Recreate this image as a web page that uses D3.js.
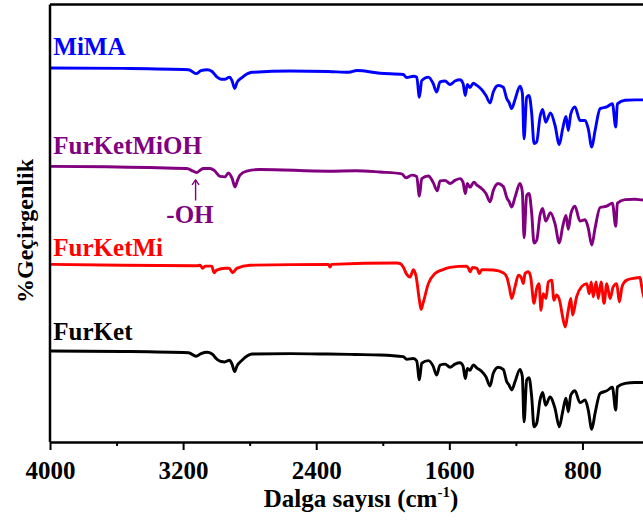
<!DOCTYPE html>
<html>
<head>
<meta charset="utf-8">
<script src="https://cdn.jsdelivr.net/npm/d3@7"></script>
<style>
  html, body { margin: 0; padding: 0; background: #fff; }
  svg { display: block; }
  text { font-family: "Liberation Serif", "Times New Roman", serif; font-weight: bold; }
</style>
</head>
<body>
<svg id="chart" width="643" height="522"></svg>
<script>
// FTIR spectra, stacked: [wavenumber (cm-1), %T (offset for stacking)]
const mima = [
  [4000,85.5],[3561,85.4],[3167,85.1],[3122,84.2],[3092,84.9],[3056,85.1],[3026,84.7],[2996,83.4],
  [2972,82.9],[2950,82.9],[2921,83.4],[2906,82.6],[2890,80.8],[2876,82.2],[2846,83.3],[2786,84.5],
  [2558,84.8],[2329,84.7],[2205,84.5],[2156,84.9],[2017,84.3],[1877,84.0],[1856,83.3],[1816,83.6],
  [1796,83.4],[1780,78.8],[1766,82.6],[1726,83.4],[1698,82.0],[1676,80.0],[1656,82.3],[1626,82.5],
  [1596,81.7],[1566,82.5],[1536,82.8],[1518,82.0],[1504,79.2],[1492,81.7],[1476,81.0],[1456,82.0],
  [1434,81.5],[1405,80.5],[1380,79.2],[1355,77.5],[1336,80.0],[1306,81.5],[1276,81.1],[1255,78.5],
  [1241,77.6],[1225,76.2],[1205,78.3],[1175,81.3],[1161,79.7],[1151,69.3],[1135,78.8],[1121,79.2],
  [1105,75.1],[1091,68.2],[1075,68.6],[1055,74.3],[1039,76.0],[1021,73.1],[992,75.2],[965,72.4],
  [939,68.0],[919,71.6],[899,74.4],[885,71.2],[870,75.0],[845,76.6],[815,73.5],[784,73.5],
  [765,71.6],[744,67.4],[724,71.2],[694,76.2],[654,76.6],[620,77.3],[600,72.0],[590,77.3],
  [544,78.1],[484,78.2],[436,78.2],[400,78.2]
];

const furKetMiOH = [
  [4000,63.0],[3659,62.9],[3178,62.5],[3139,61.9],[3118,61.6],[3098,62.1],[3079,62.5],[3038,62.5],
  [3014,62.1],[2978,60.7],[2948,60.6],[2928,61.5],[2906,60.3],[2888,58.3],[2873,59.8],[2858,61.0],
  [2818,61.9],[2738,62.3],[2329,61.9],[2161,62.0],[2017,61.7],[1886,61.3],[1860,60.4],[1826,61.0],
  [1796,60.7],[1780,56.2],[1766,60.2],[1726,60.8],[1698,59.4],[1672,57.4],[1656,59.7],[1626,59.8],
  [1596,59.1],[1566,59.8],[1536,60.2],[1518,59.4],[1504,56.8],[1492,59.1],[1476,58.2],[1452,59.4],
  [1434,58.7],[1405,57.9],[1380,56.8],[1355,54.9],[1336,57.5],[1306,59.1],[1276,58.4],[1252,55.6],
  [1241,55.0],[1225,53.7],[1205,56.0],[1175,59.1],[1161,57.1],[1151,46.7],[1135,56.4],[1121,56.8],
  [1105,52.3],[1091,45.5],[1075,46.1],[1055,51.8],[1039,53.4],[1021,50.5],[992,52.4],[965,49.9],
  [939,45.5],[919,49.2],[899,51.8],[885,48.6],[870,52.1],[845,53.9],[815,50.5],[784,50.8],
  [765,48.9],[744,45.0],[724,48.9],[694,53.6],[654,53.9],[620,54.6],[600,49.3],[590,54.6],
  [544,55.4],[484,55.5],[436,55.3],[400,55.3]
];

const furKetMi = [
  [4000,40.6],[3561,40.4],[3118,40.3],[3098,40.4],[3082,39.7],[3068,40.2],[3028,40.2],[3014,38.7],
  [2998,39.3],[2948,39.7],[2924,39.7],[2902,38.7],[2878,39.7],[2798,40.4],[2327,40.6],[2317,40.0],
  [2307,40.6],[1916,40.9],[1896,40.8],[1877,40.0],[1856,38.3],[1836,37.7],[1816,39.4],[1800,37.9],
  [1780,32.4],[1770,30.3],[1756,32.0],[1726,36.2],[1686,38.5],[1646,39.3],[1596,39.9],[1496,40.2],
  [1485,39.7],[1476,38.9],[1460,39.9],[1434,39.7],[1420,38.5],[1405,39.4],[1336,39.3],[1276,38.7],
  [1255,37.7],[1240,35.5],[1225,32.8],[1205,35.5],[1185,38.1],[1169,37.7],[1155,36.2],[1145,38.5],
  [1125,38.9],[1111,37.7],[1091,31.7],[1075,35.1],[1061,36.2],[1049,30.1],[1036,33.9],[1019,32.8],
  [1005,36.6],[985,37.0],[971,32.4],[955,33.6],[935,32.0],[919,28.6],[903,26.3],[887,29.7],
  [870,32.8],[859,29.0],[835,33.2],[805,35.5],[774,36.2],[759,33.9],[747,36.6],[735,33.2],
  [718,36.6],[705,32.8],[688,36.6],[670,31.7],[654,36.2],[634,32.8],[615,35.5],[594,36.2],
  [578,32.0],[562,35.5],[534,37.0],[494,37.4],[454,37.6],[445,35.8],[436,33.9],[400,31.0]
];

const furKet = [
  [4000,20.8],[3561,20.7],[3167,20.4],[3122,19.6],[3092,20.2],[3056,20.5],[3026,20.1],[2996,18.9],
  [2972,18.4],[2950,18.3],[2921,18.7],[2906,17.8],[2890,16.1],[2876,17.4],[2846,18.7],[2786,20.1],
  [2558,20.2],[2329,20.1],[2167,20.0],[2017,19.9],[1877,19.5],[1856,18.9],[1816,19.1],[1796,18.5],
  [1780,14.2],[1766,18.0],[1726,18.6],[1698,17.4],[1676,15.3],[1656,17.6],[1626,17.8],[1596,17.1],
  [1566,17.8],[1536,18.1],[1518,17.4],[1504,14.5],[1492,16.8],[1476,16.4],[1456,17.6],[1434,16.9],
  [1405,16.1],[1380,14.9],[1355,12.8],[1336,15.7],[1306,17.1],[1276,16.6],[1255,13.8],[1241,13.0],
  [1225,11.9],[1205,13.8],[1175,16.6],[1161,14.9],[1151,4.6],[1135,14.2],[1121,14.7],[1105,10.3],
  [1091,3.5],[1075,4.3],[1055,9.6],[1039,11.3],[1021,8.4],[995,10.3],[965,7.7],[939,3.5],
  [919,6.9],[899,10.0],[885,6.9],[870,10.7],[845,11.7],[815,9.0],[784,9.6],[765,7.3],
  [744,2.9],[724,6.6],[694,11.1],[654,11.7],[620,12.5],[600,7.3],[590,12.6],[544,13.4],
  [484,13.6],[436,13.6],[400,13.6]
];

const seriesNames  = ["MiMA", "FurKetMiOH", "FurKetMi", "FurKet"];
const seriesData   = [mima, furKetMiOH, furKetMi, furKet];
const seriesColors = ["#0000ff", "#800080", "#ff0000", "#000000"];
// label anchor: [wavenumber, %T baseline]
const seriesLabelPos = [[3980, 88.4], [3980, 65.8], [3980, 42.5], [3980, 23.3]];

const majorTicks = [4000, 3200, 2400, 1600, 800];
const minorTicks = [3600, 2800, 2000, 1200, 400];

const xTitle = "Dalga sayısı (cm";
const xTitleSup = "-1";
const yTitle = "%Geçirgenlik";

// -OH band marker on FurKetMiOH
const ohBand = { wave: 3125, tip: 59.9, tail: 55.2, textWave: 3159, textT: 50.0, label: "-OH" };

const svg = d3.select("#chart");
const plotLeft = 50, plotRight = 649, plotTop = 4.5, plotBottom = 442;

const x = d3.scaleLinear().domain([4000, 400]).range([plotLeft, plotRight]);
const y = d3.scaleLinear().domain([0, 100]).range([plotBottom, plotTop]);

svg.append("defs").append("clipPath").attr("id", "plotClip")
  .append("rect").attr("x", plotLeft).attr("y", plotTop)
  .attr("width", plotRight - plotLeft).attr("height", plotBottom - plotTop);

const line = d3.line()
  .x(d => x(d[0]))
  .y(d => y(d[1]))
  .curve(d3.curveMonotoneX);

const traces = svg.append("g").attr("clip-path", "url(#plotClip)");
seriesData.forEach((data, i) => {
  traces.append("path")
    .datum(data)
    .attr("d", line)
    .attr("fill", "none")
    .attr("stroke", seriesColors[i])
    .attr("stroke-width", 2.9)
    .attr("stroke-linejoin", "round")
    .attr("stroke-linecap", "round");
});

// series labels
seriesNames.forEach((name, i) => {
  svg.append("text")
    .attr("x", x(seriesLabelPos[i][0]))
    .attr("y", y(seriesLabelPos[i][1]))
    .attr("fill", seriesColors[i])
    .attr("font-size", 25)
    .text(name);
});

// -OH arrow and label
const ohColor = seriesColors[1];
const ax = x(ohBand.wave), ayTip = y(ohBand.tip), ayTail = y(ohBand.tail);
svg.append("line").attr("x1", ax).attr("x2", ax).attr("y1", ayTail).attr("y2", ayTip)
  .attr("stroke", ohColor).attr("stroke-width", 1.4);
svg.append("path")
  .attr("d", `M${ax - 3.5},${ayTip + 5} L${ax},${ayTip} L${ax + 3.5},${ayTip + 5}`)
  .attr("fill", "none").attr("stroke", ohColor).attr("stroke-width", 1.4);
svg.append("text")
  .attr("x", x(ohBand.textWave)).attr("y", y(ohBand.textT))
  .attr("text-anchor", "middle").attr("fill", ohColor).attr("font-size", 25)
  .text(ohBand.label);

// frame: top and left edges
svg.append("line").attr("x1", plotLeft).attr("x2", plotRight).attr("y1", plotTop).attr("y2", plotTop)
  .attr("stroke", "#000").attr("stroke-width", 2.5);
svg.append("line").attr("x1", plotLeft).attr("x2", plotLeft).attr("y1", plotTop).attr("y2", plotBottom)
  .attr("stroke", "#000").attr("stroke-width", 2.5);

// bottom axis
const axisG = svg.append("g").attr("transform", `translate(0,${plotBottom})`);
axisG.call(d3.axisBottom(x).tickValues(majorTicks).tickSize(8).tickSizeOuter(0).tickFormat(d3.format("d")));
axisG.select(".domain").attr("stroke-width", 2.5);
axisG.selectAll(".tick line").attr("stroke-width", 2);
axisG.selectAll(".tick text")
  .attr("y", 36.5).attr("dy", null)
  .attr("font-size", 25)
  .attr("font-family", "'Liberation Serif', 'Times New Roman', serif")
  .attr("font-weight", "bold")
  .attr("fill", "#000");

const minorG = svg.append("g").attr("transform", `translate(0,${plotBottom})`);
minorG.call(d3.axisBottom(x).tickValues(minorTicks).tickSize(4).tickFormat(""));
minorG.select(".domain").remove();
minorG.selectAll(".tick line").attr("stroke-width", 2);

// axis titles
const xt = svg.append("text")
  .attr("x", 361).attr("y", 507)
  .attr("text-anchor", "middle").attr("font-size", 25).attr("fill", "#000");
xt.append("tspan").text(xTitle);
xt.append("tspan").attr("font-size", 15).attr("dy", -10).text(xTitleSup);
xt.append("tspan").attr("dy", 10).text(")");

svg.append("text")
  .attr("transform", "translate(33,231) rotate(-90)")
  .attr("text-anchor", "middle").attr("font-size", 24).attr("fill", "#000")
  .text(yTitle);
</script>
</body>
</html>
